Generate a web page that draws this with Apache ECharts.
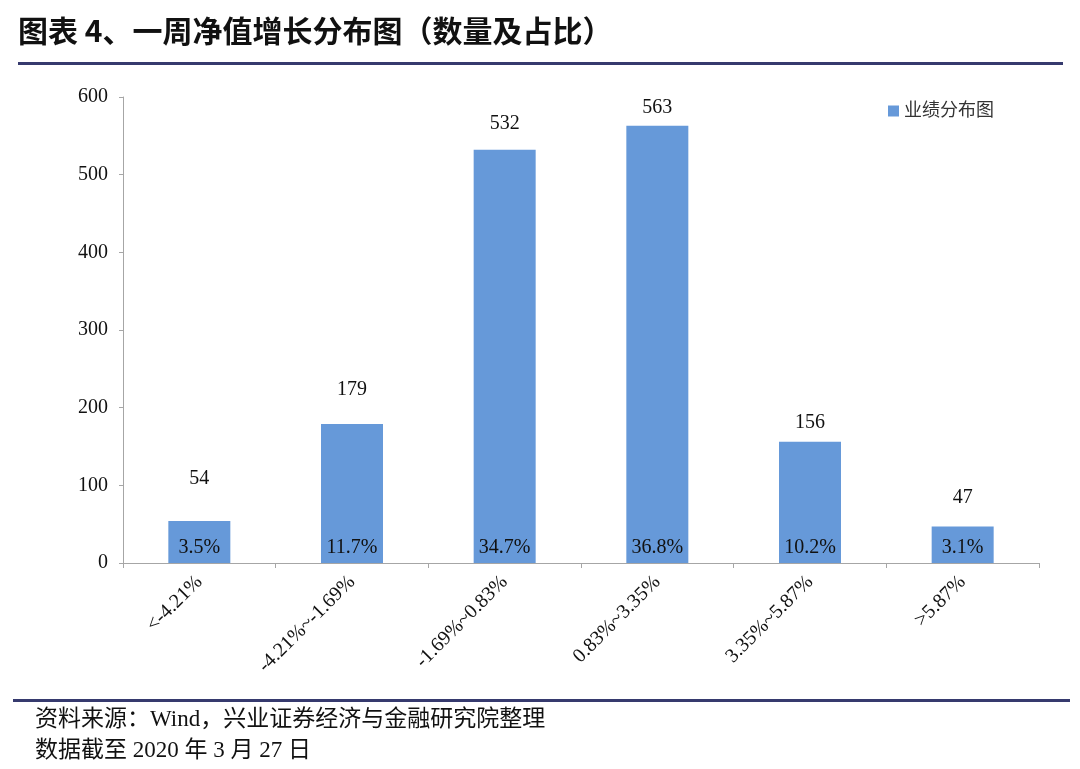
<!DOCTYPE html>
<html>
<head>
<meta charset="utf-8">
<script src="https://cdn.jsdelivr.net/npm/echarts@6/dist/echarts.min.js"></script>
<style>
html,body{margin:0;padding:0;background:#fff;}
#chart{width:1080px;height:769px;}
</style>
</head>
<body>
<div id="chart"></div>
<script>
var categories = ['<-4.21%', '-4.21%~-1.69%', '-1.69%~0.83%', '0.83%~3.35%', '3.35%~5.87%', '>5.87%'];
var counts = [54, 179, 532, 563, 156, 47];
var shares = ['3.5%', '11.7%', '34.7%', '36.8%', '10.2%', '3.1%'];
var yTicks = [0, 100, 200, 300, 400, 500, 600];
var seriesName = '业绩分布图';
var titleText = '图表 4、一周净值增长分布图（数量及占比）';
var sourceText = '资料来源：Wind，兴业证券经济与金融研究院整理';
var dateText = '数据截至 2020 年 3 月 27 日';

// label styling (gap between bar top and its count label, in px)
var countLabelGaps = [32, 24, 16, 8, 9, 19];

var serif = '"Liberation Serif", "Times New Roman", "Noto Sans CJK SC", serif';
var cjk = '"Liberation Serif", "Noto Sans CJK SC", serif';
var barColor = '#6699D9';
var axisColor = '#a6a6a6';

var chart = echarts.init(document.getElementById('chart'));
chart.setOption({
  backgroundColor: '#ffffff',
  animation: false,
  grid: { left: 123, right: 41, top: 97, bottom: 206 },
  legend: {
    data: [seriesName],
    left: 883, top: 97,
    itemWidth: 11, itemHeight: 11, itemGap: 4,
    icon: 'rect',
    textStyle: { fontFamily: cjk, fontSize: 18, color: '#333' }
  },
  xAxis: {
    type: 'category',
    data: categories,
    boundaryGap: true,
    axisLine: { lineStyle: { color: axisColor, width: 1 } },
    axisTick: { show: true, length: 5, lineStyle: { color: axisColor } },
    axisLabel: {
      rotate: 45, interval: 0, margin: 16,
      fontFamily: serif, fontSize: 20, color: '#111'
    }
  },
  yAxis: {
    type: 'value',
    min: yTicks[0], max: yTicks[yTicks.length - 1], interval: yTicks[1] - yTicks[0],
    axisLine: { show: true, lineStyle: { color: axisColor, width: 1 } },
    axisTick: { show: true, length: 4, lineStyle: { color: axisColor } },
    splitLine: { show: false },
    axisLabel: { margin: 15, fontFamily: serif, fontSize: 20, color: '#111' }
  },
  series: [
    {
      name: seriesName,
      type: 'bar',
      data: counts.map(function (v, i) {
        return { value: v, label: { distance: countLabelGaps[i] } };
      }),
      barWidth: 62,
      itemStyle: { color: barColor },
      label: {
        show: true, position: 'top', distance: 20,
        fontFamily: serif, fontSize: 20, color: '#111'
      },
      z: 2
    },
    {
      name: 'share',
      type: 'bar',
      data: counts,
      barWidth: 62,
      barGap: '-100%',
      silent: true,
      itemStyle: { color: 'rgba(0,0,0,0)' },
      label: {
        show: true, position: 'insideBottom', distance: 5,
        fontFamily: serif, fontSize: 20, color: '#111',
        formatter: function (p) { return shares[p.dataIndex]; }
      },
      z: 3
    }
  ],
  graphic: [
    {
      type: 'text', left: 18, top: 16,
      style: { text: titleText, font: 'bold 30px "Noto Sans CJK SC", sans-serif', fill: '#111' }
    },
    {
      type: 'rect', shape: { x: 18, y: 62, width: 1045, height: 3 },
      style: { fill: '#363a6e' }
    },
    {
      type: 'rect', shape: { x: 13, y: 699, width: 1057, height: 3 },
      style: { fill: '#363a6e' }
    },
    {
      type: 'text', left: 35, top: 708,
      style: { text: sourceText, font: '23px ' + cjk, fill: '#111' }
    },
    {
      type: 'text', left: 35, top: 739,
      style: { text: dateText, font: '23px ' + cjk, fill: '#111' }
    }
  ]
});
</script>
</body>
</html>
